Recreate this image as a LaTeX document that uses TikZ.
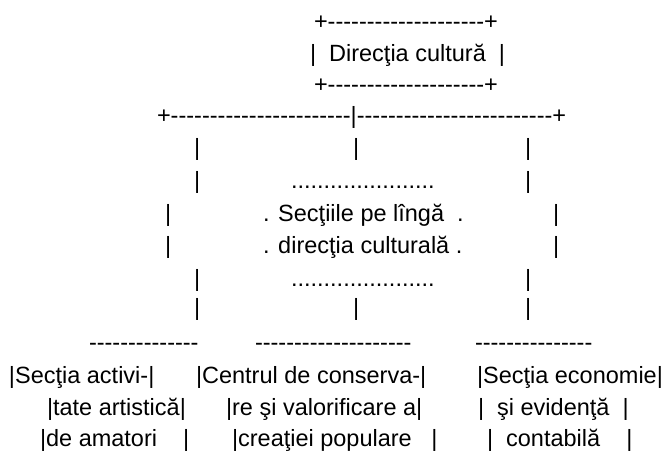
\documentclass[tikz,border=0pt]{standalone}
\usepackage{fontspec}
\setmainfont{Liberation Sans}[Ligatures={TeXOff,CommonOff}]
\usetikzlibrary{positioning}

\begin{document}
\begin{tikzpicture}[
		x=1pt, y=-1pt,
		txt/.style={anchor=base west, inner sep=0pt, outer sep=0pt, font=\fontsize{23.5}{28}\selectfont},
		]
		\useasboundingbox (0,0) rectangle (670,468);
		% head box
		\node[txt] (hTop) at (314, 30) {+--------------------+};
		\node[txt] (hMid) at (310, 62) {|~~Direcţia cultură~~|};
		\node[txt] (hBot) at (314, 93) {+--------------------+};
		\node[txt] (br) at (157, 124) {+-----------------------|-------------------------+};
		
		\foreach \yy [count=\step from 1] in {156, 315} {
			\node[txt] (vl\step) at (194, \yy) {|};
			\node[txt] (vm\step) at (353, \yy) {|};
			\node[txt] (vr\step) at (525, \yy) {|};
		}
		\foreach \yy [count=\step from 1] in {189, 286} {
			\node[txt] (dl\step) at (194, \yy) {|};
			\node[txt] (dots\step) at (291, \yy) {......................};
			\node[txt] (dr\step) at (525, \yy) {|};
		}
		\foreach \yy [count=\step from 1] in {222, 254} {
			\node[txt] (ol\step) at (165, \yy) {|};
			\node[txt] (or\step) at (553, \yy) {|};
		}
		\node[txt] (sec1) at (263, 222) {. Secţiile pe lîngă~~.};
		\node[txt] (sec2) at (263, 254) {. direcţia culturală .};
		
		% the three sections
		\node[txt] (c1) at (89, 350) {--------------};
		\node[txt] (c2) at (255, 350) {--------------------};
		\node[txt] (c3) at (475, 350) {---------------};
		
		\node[txt] (a1) at (9, 383) {|Secţia activi-|};
		\node[txt] (a2) at (47, 415) {|tate artistică|};
		\node[txt] (a3) at (40, 446) {|de amatori~~~~|};
		
		\node[txt] (b1) at (196, 383) {|Centrul de conserva-|};
		\node[txt] (b2) at (226, 415) {|re şi valorificare a|};
		\node[txt] (b3) at (232, 446) {|creaţiei populare~~~|};
		
		\node[txt] (e1) at (477, 383) {|Secţia economie|};
		\node[txt] (e2) at (478, 415) {|~~şi evidenţă~~|};
		\node[txt] (e3) at (487, 446) {|~~contabilă~~~~|};
\end{tikzpicture}
\end{document}
